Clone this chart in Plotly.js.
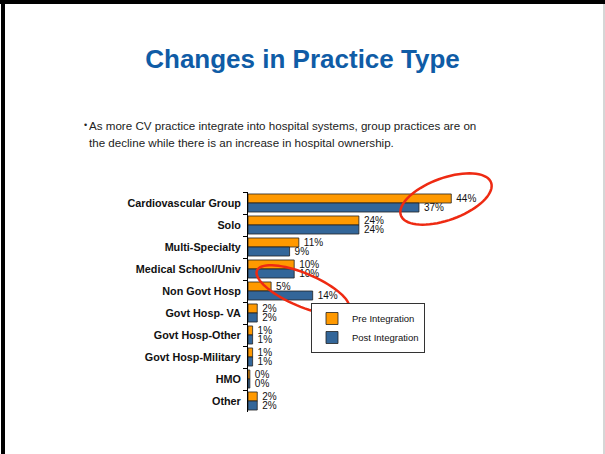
<!DOCTYPE html>
<html>
<head>
<meta charset="utf-8">
<script src="https://cdn.plot.ly/plotly-3.0.1.min.js"></script>
<style>html,body{margin:0;padding:0;background:#fff;}#chart{width:605px;height:454px;}</style>
</head>
<body>
<div id="chart"></div>
<script>
const categories = ["Cardiovascular Group", "Solo", "Multi-Specialty", "Medical School/Univ", "Non Govt Hosp", "Govt Hosp- VA", "Govt Hosp-Other", "Govt Hosp-Military", "HMO", "Other"];
const preIntegration = [44, 24, 11, 10, 5, 2, 1, 1, 0.4, 2];
const postIntegration = [37, 24, 9, 10, 14, 2, 1, 1, 0.4, 2];
const preLabels = ["44%", "24%", "11%", "10%", "5%", "2%", "1%", "1%", "0%", "2%"];
const postLabels = ["37%", "24%", "9%", "10%", "14%", "2%", "1%", "1%", "0%", "2%"];
const seriesNames = ["Pre Integration", "Post Integration"];

const W = 605, H = 454;
const M = {l: 248, r: 126, t: 192, b: 42};
const PW = W - M.l - M.r, PH = H - M.t - M.b;
const px = x => (x - M.l) / PW;
const py = y => (H - M.b - y) / PH;

function ellipsePath(cx, cy, a, b, deg) {
  const t = deg * Math.PI / 180;
  let d = "";
  for (let i = 0; i <= 72; i++) {
    const f = i / 72 * 2 * Math.PI;
    const x = cx + a * Math.cos(f) * Math.cos(t) - b * Math.sin(f) * Math.sin(t);
    const y = cy + a * Math.cos(f) * Math.sin(t) + b * Math.sin(f) * Math.cos(t);
    d += (i === 0 ? "M" : "L") + px(x).toFixed(4) + "," + py(y).toFixed(4);
  }
  return d + "Z";
}

const font = "Liberation Sans, Arial, sans-serif";
const valueFont = {family: font, size: 10, color: "#111"};

const traces = [
  {type: "bar", orientation: "h", name: seriesNames[0], y: categories, x: preIntegration,
   text: preLabels, texttemplate: "\u2009%{text}", textposition: "outside", textfont: valueFont, constraintext: "none", cliponaxis: false,
   marker: {color: "#FF9900", line: {color: "#222", width: 0.8}}, hoverinfo: "skip"},
  {type: "bar", orientation: "h", name: seriesNames[1], y: categories, x: postIntegration,
   text: postLabels, texttemplate: "\u2009%{text}", textposition: "outside", textfont: valueFont, constraintext: "none", cliponaxis: false,
   marker: {color: "#336699", line: {color: "#222", width: 0.8}}, hoverinfo: "skip"}
];

const layout = {
  width: W, height: H,
  margin: M,
  paper_bgcolor: "#fff", plot_bgcolor: "rgba(0,0,0,0)",
  barmode: "group", bargap: 0.18, bargroupgap: 0,
  title: {text: "<b>Changes in Practice Type</b>", font: {family: font, size: 26, color: "#0F5CA6"},
          xref: "container", x: 0.5, xanchor: "center", yref: "container", y: 1 - 59 / H, yanchor: "middle"},
  xaxis: {visible: false, range: [0, 50], fixedrange: true},
  yaxis: {autorange: "reversed", showline: true, linecolor: "#000", linewidth: 1,
          ticks: "outside", tickson: "boundaries", ticklen: 4, tickcolor: "#000",
          ticklabelstandoff: 4,
          showgrid: false, zeroline: false,
          tickfont: {family: font, size: 10.8, color: "#111", weight: "bold"}},
  showlegend: true,
  legend: {x: px(311), xanchor: "left", y: py(303), yanchor: "top", bgcolor: "#fff",
           bordercolor: "#333", borderwidth: 1, font: {family: font, size: 9.5, color: "#111"},
           tracegroupgap: 0, itemwidth: 30, traceorder: "normal"},
  annotations: [
    {xref: "paper", yref: "paper", x: px(82), y: py(125), xanchor: "left", yanchor: "middle", showarrow: false,
     text: "•", font: {family: font, size: 9, color: "#222"}},
    {xref: "paper", yref: "paper", x: px(87), y: py(125), xanchor: "left", yanchor: "middle", showarrow: false,
     text: "As more CV practice integrate into hospital systems, group practices are on", font: {family: font, size: 11.6, color: "#222"}},
    {xref: "paper", yref: "paper", x: px(87), y: py(142), xanchor: "left", yanchor: "middle", showarrow: false,
     text: "the decline while there is an increase in hospital ownership.", font: {family: font, size: 11.6, color: "#222"}}
  ],
  shapes: [
    {type: "rect", xref: "paper", yref: "paper", x0: px(1), x1: px(5), y0: py(0), y1: py(H), fillcolor: "#000", line: {width: 0}, layer: "above"},
    {type: "rect", xref: "paper", yref: "paper", x0: px(0), x1: px(W), y0: py(0), y1: py(4), fillcolor: "#000", line: {width: 0}, layer: "above"},
    {type: "line", xref: "paper", yref: "paper", x0: px(604), x1: px(604), y0: py(4), y1: py(H), line: {color: "#c8c8c8", width: 1.5}, layer: "above"},
    {type: "path", xref: "paper", yref: "paper", path: ellipsePath(446, 199, 48, 21, -20), line: {color: "#EE2A12", width: 2.5}, layer: "above"},
    {type: "path", xref: "paper", yref: "paper", path: ellipsePath(303, 290, 50, 16.5, 23), line: {color: "#EE2A12", width: 2.5}, layer: "above"}
  ]
};

Plotly.newPlot("chart", traces, layout, {displayModeBar: false, staticPlot: true});
</script>
</body>
</html>
